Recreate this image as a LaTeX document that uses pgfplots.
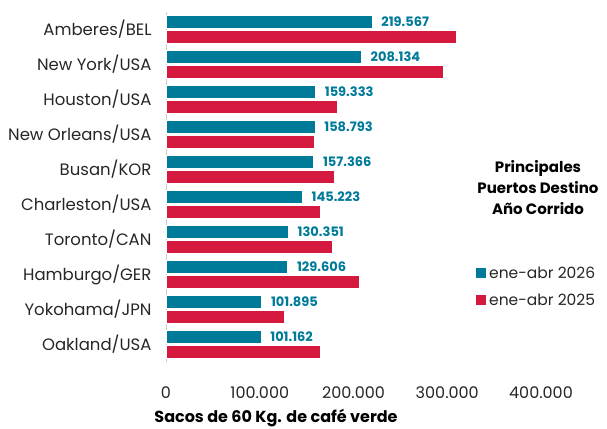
\documentclass[border=0pt]{standalone}
\usepackage{pgfplots}
\pgfplotsset{compat=1.18}
\usepackage{fontspec}
\setmainfont{Poppins}
\definecolor{tealb}{RGB}{0,122,153}
\definecolor{redb}{RGB}{213,24,62}
\definecolor{txt}{RGB}{38,38,38}
\begin{document}
\begin{tikzpicture}[x=1pt,y=1pt]
\useasboundingbox (0,0) rectangle (607,428);
\begin{axis}[
  at={(166pt,66pt)}, anchor=south west,
  scale only axis, width=375pt, height=350pt,
  xbar, bar width=13pt,
  xmin=0, xmax=400000,
  ymin=-0.5, ymax=9.5, y dir=reverse,
  ytick={0,...,9},
  yticklabels={Amberes/BEL,New York/USA,Houston/USA,New Orleans/USA,Busan/KOR,Charleston/USA,Toronto/CAN,Hamburgo/GER,Yokohama/JPN,Oakland/USA},
  xtick={0,100000,200000,300000,400000},
  scaled x ticks=false,
  /pgf/number format/.cd, 1000 sep={.}, assume math mode=true, /pgfplots/.cd,
  axis x line=none,
  axis y line*=left,
  y axis line style={draw=gray!40, line width=0.8pt},
  ytick style={draw=none},
  major tick length=0pt,
  yticklabel style={font=\fontsize{16.5}{18}\selectfont, text=txt, xshift=-11pt},
  clip=false,
]
\addplot[fill=tealb, draw=white, line width=0.4pt, bar shift=7.5pt,
  nodes near coords, nodes near coords align={horizontal},
  every node near coord/.append style={font=\bfseries\fontsize{13}{15}\selectfont, text=tealb, xshift=6pt,
    /pgf/number format/fixed, /pgf/number format/precision=0, /pgf/number format/1000 sep={.}, /pgf/number format/assume math mode=true}]
coordinates {(219567,0) (208134,1) (159333,2) (158793,3) (157366,4) (145223,5) (130351,6) (129606,7) (101895,8) (101162,9)};
\addplot[fill=redb, draw=white, line width=0.4pt, bar shift=-7.5pt]
coordinates {(310000,0) (296000,1) (183000,2) (158000,3) (179000,4) (164500,5) (177000,6) (206000,7) (126000,8) (165000,9)};
\end{axis}
% x tick labels
\foreach \v/\t in {0/0,100/100.000,200/200.000,300/300.000,400/400.000}{
  \node[font=\fontsize{16}{18}\selectfont, text=txt] at (166+0.9375*\v, 35) {\t};
}
\node[font=\bfseries\fontsize{16}{18}\selectfont, text=black] at (276, 10) {Sacos de 60 Kg. de café verde};
\node[font=\bfseries\fontsize{15}{21}\selectfont, text=black, align=center] at (538, 240) {Principales\\Puertos Destino\\Año Corrido};
\fill[tealb] (476,150) rectangle (486,160);
\node[anchor=west, font=\fontsize{15.5}{17}\selectfont, text=txt, inner sep=0pt] at (489,155) {ene-abr 2026};
\fill[redb] (476,123) rectangle (486,133);
\node[anchor=west, font=\fontsize{15.5}{17}\selectfont, text=txt, inner sep=0pt] at (489,128) {ene-abr 2025};
\end{tikzpicture}
\end{document}
